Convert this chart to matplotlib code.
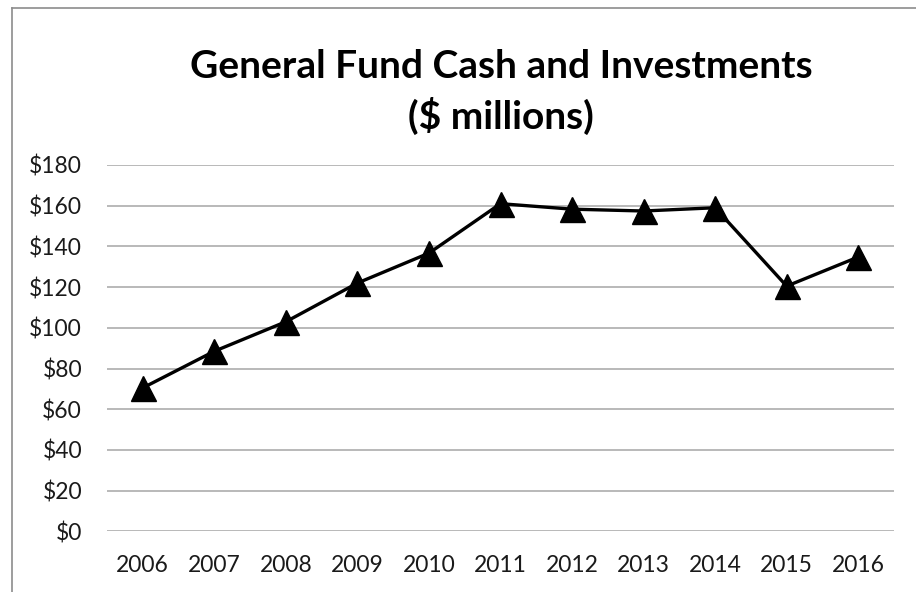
import matplotlib.pyplot as plt
from matplotlib.lines import Line2D

years = ['2006', '2007', '2008', '2009', '2010', '2011', '2012', '2013', '2014', '2015', '2016']
cash = [70.5, 88.5, 103, 122, 136.7, 161, 158.3, 157.4, 159, 120.5, 134.8]
y_ticks = [0, 20, 40, 60, 80, 100, 120, 140, 160, 180]

plt.rcParams['font.family'] = ['Lato', 'DejaVu Sans']

fig = plt.figure(figsize=(9.16, 5.92), dpi=100)
ax = fig.add_axes([107 / 916, 1 - 531.4 / 592, (894 - 107) / 916, (531.4 - 165) / 592])

x = list(range(len(years)))
ax.plot(x, cash, color='black', linewidth=2.4, marker='^', markersize=18,
        markerfacecolor='black', markeredgecolor='black', zorder=3)

ax.set_xlim(-0.5, len(years) - 0.5)
ax.set_ylim(0, 180)
ax.set_yticks(y_ticks)
ax.set_yticklabels(['$' + str(v) for v in y_ticks])
ax.set_xticks(x)
ax.set_xticklabels(years)
ax.yaxis.grid(True, color='#a6a6a6', linewidth=1.1)
ax.set_axisbelow(True)
for s in ax.spines.values():
    s.set_visible(False)
ax.tick_params(length=0, labelsize=16.5, labelcolor='#1a1a1a')
ax.tick_params(axis='y', pad=18)
ax.tick_params(axis='x', pad=17)

fig.text(501 / 916, 1 - 66 / 592, 'General Fund Cash and Investments', ha='center', va='center',
         fontsize=28, fontweight='bold', color='black')
fig.text(501 / 916, 1 - 116 / 592, '($ millions)', ha='center', va='center',
         fontsize=28, fontweight='bold', color='black')

# chart border (only left and top visible in the crop)
fig.add_artist(Line2D([11.5 / 916, 11.5 / 916], [0, 1 - 7.5 / 592], color='#8c8c8c', linewidth=1.2))
fig.add_artist(Line2D([11.5 / 916, 1], [1 - 7.5 / 592, 1 - 7.5 / 592], color='#8c8c8c', linewidth=1.2))

fig.savefig('out.png', dpi=100)
